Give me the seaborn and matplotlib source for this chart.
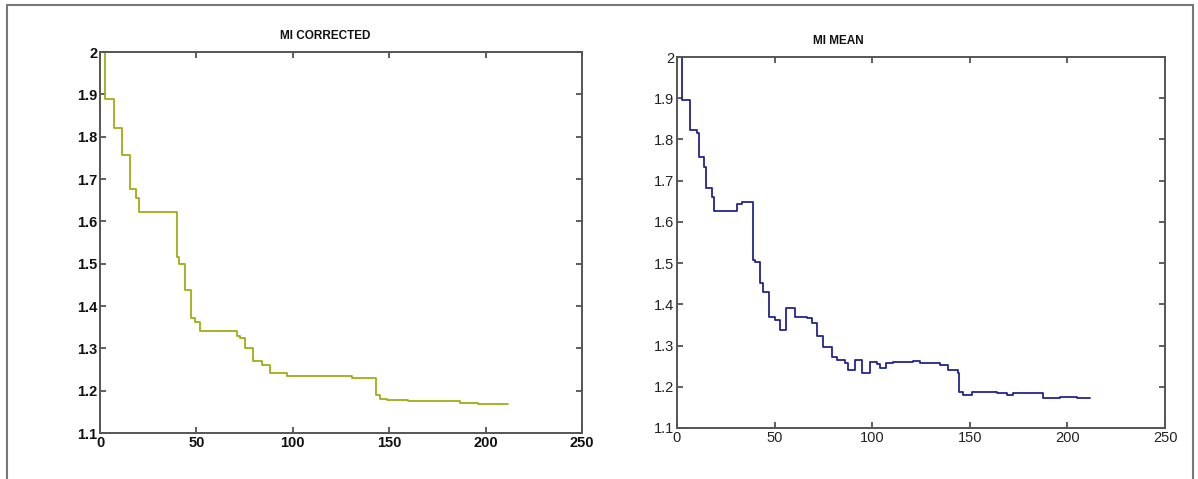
import matplotlib
matplotlib.use("Agg")
import matplotlib.pyplot as plt
import seaborn as sns
import pandas as pd
from matplotlib.lines import Line2D

sns.set_theme(style="white")
plt.rcParams['font.family'] = ['Liberation Sans', 'DejaVu Sans']

# ---- data ----
corr_x = [0, 2.6, 7.3, 11.4, 15.6, 18.5, 20.2, 40, 41, 44, 47, 49.3, 52, 70.9, 72.6,
          75, 79.4, 83.8, 88, 97, 130.5, 143, 145, 148.7, 159.8, 186.7, 196, 211.6]
corr_y = [2.0, 1.89, 1.82, 1.757, 1.676, 1.655, 1.622, 1.515, 1.50, 1.437, 1.371, 1.362,
          1.341, 1.329, 1.324, 1.30, 1.27, 1.26, 1.242, 1.234, 1.229, 1.19, 1.18, 1.178,
          1.175, 1.171, 1.168, 1.168]

mean_x = [0, 2.7, 6.7, 10, 11.3, 13.9, 14.9, 17.8, 19, 30.6, 33.1, 39, 40, 42.5, 44.1,
          47.2, 50.2, 52.8, 55.8, 60.5, 66.4, 69, 71.6, 74.8, 79.2, 81.8, 86, 87.6, 91.2,
          94.6, 98.9, 102.3, 104, 107.3, 110.8, 121, 124.5, 134.7, 139, 143.8, 144.5,
          146.6, 151, 163.8, 168.9, 172.2, 182.4, 187.5, 196.2, 204.8, 211.6]
mean_y = [2.0, 1.896, 1.823, 1.816, 1.758, 1.734, 1.682, 1.661, 1.627, 1.643, 1.649,
          1.508, 1.503, 1.452, 1.431, 1.37, 1.362, 1.338, 1.391, 1.37, 1.367, 1.355, 1.323,
          1.297, 1.272, 1.265, 1.257, 1.24, 1.265, 1.234, 1.259, 1.255, 1.245, 1.257, 1.261,
          1.262, 1.257, 1.253, 1.241, 1.233, 1.188, 1.179, 1.188, 1.186, 1.18, 1.185, 1.184,
          1.173, 1.176, 1.173, 1.173]

x_ticks = [0, 50, 100, 150, 200, 250]
y_ticks = [1.1, 1.2, 1.3, 1.4, 1.5, 1.6, 1.7, 1.8, 1.9, 2.0]
y_labels = ["1.1", "1.2", "1.3", "1.4", "1.5", "1.6", "1.7", "1.8", "1.9", "2"]
titles = ["MI CORRECTED", "MI MEAN"]

df_c = pd.DataFrame({"x": corr_x, "y": corr_y})
df_m = pd.DataFrame({"x": mean_x, "y": mean_y})

fig = plt.figure(figsize=(11.98, 4.79), dpi=100)
fig.patch.set_facecolor("white")
ax1 = fig.add_axes([0.0835, 0.096, 0.4023, 0.7954])
ax2 = fig.add_axes([0.5651, 0.1065, 0.4074, 0.7745])

specs = [(ax1, df_c, "#a2ad12", "bold", "#111111"),
         (ax2, df_m, "#24248f", "normal", "#222222")]

for (ax, df, col, weight, tcol), title in zip(specs, titles):
    sns.lineplot(data=df, x="x", y="y", ax=ax, color=col, linewidth=1.3,
                 drawstyle="steps-post", estimator=None, sort=False)
    ax.set_xlim(0, 250)
    ax.set_ylim(1.1, 2.0)
    ax.set_xticks(x_ticks)
    ax.set_yticks(y_ticks)
    ax.set_xticklabels([str(t) for t in x_ticks], fontsize=10.5, fontweight=weight, color=tcol)
    ax.set_yticklabels(y_labels, fontsize=10.5, fontweight=weight, color=tcol)
    ax.set_xlabel("")
    ax.set_ylabel("")
    ax.tick_params(direction="in", length=4, width=1.2, color="#444444",
                   top=True, right=True, bottom=True, left=True, pad=2)
    for s in ax.spines.values():
        s.set_visible(True)
        s.set_color("#555555")
        s.set_linewidth(1.4)
    ax.set_facecolor("white")

fig.text(0.2715, 0.925, titles[0], ha="center", va="center", fontsize=8.5,
         fontweight="bold", color="#111111")
fig.text(0.6995, 0.915, titles[1], ha="center", va="center", fontsize=8.5,
         fontweight="bold", color="#111111")

# outer frame of the figure
frame_kw = dict(color="#777777", linewidth=1.5, transform=fig.transFigure)
fig.add_artist(Line2D([0.006, 0.006], [0.0, 0.99], **frame_kw))
fig.add_artist(Line2D([0.006, 0.996], [0.99, 0.99], **frame_kw))
fig.add_artist(Line2D([0.996, 0.996], [0.0, 0.99], **frame_kw))

fig.savefig("out.png", dpi=100, facecolor="white")
